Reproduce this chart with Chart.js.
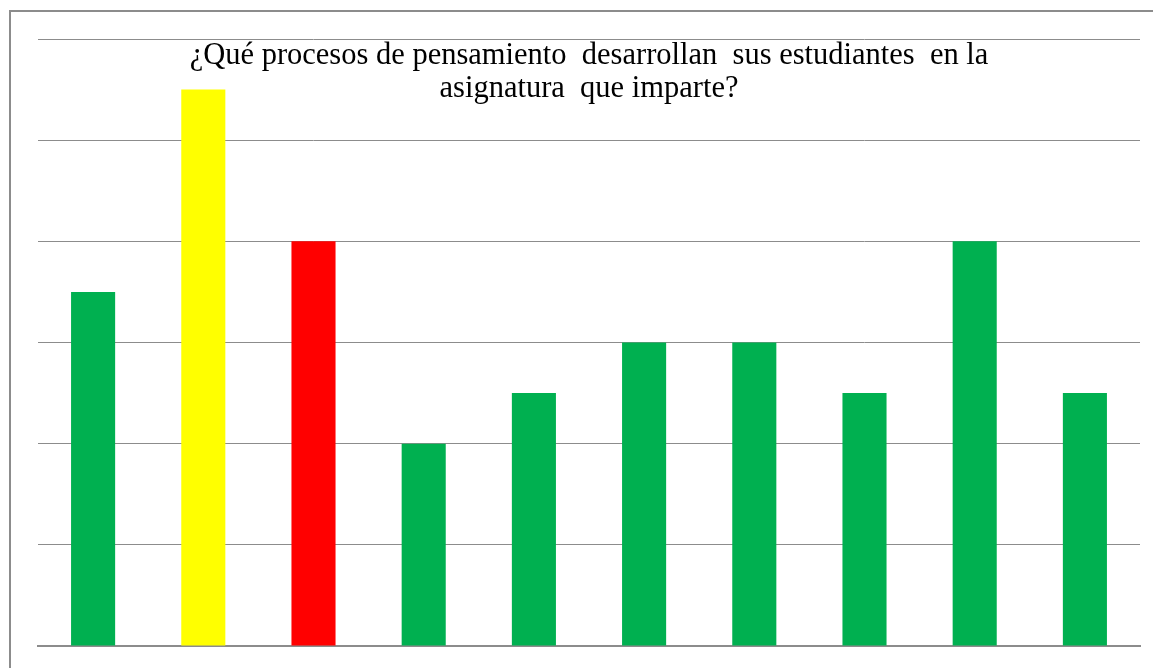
<!DOCTYPE html>
<html lang="es">
<head>
<meta charset="UTF-8" />
<title>Procesos de pensamiento</title>
<script src="https://cdn.jsdelivr.net/npm/chart.js@4.4.0/dist/chart.umd.min.js"></script>
<style>
  html, body { margin: 0; padding: 0; background: #fff; }
  #wrap { width: 1153px; height: 668px; }
</style>
</head>
<body>
<div id="wrap"><canvas id="procesosChart"></canvas></div>
<script>
// categorias (sin etiquetas visibles en el original)
const categorias = ['1', '2', '3', '4', '5', '6', '7', '8', '9', '10'];
const valores = [7, 11, 8, 4, 5, 6, 6, 5, 8, 5];
const colores = ['#00B050', '#FFFF00', '#FF0000', '#00B050', '#00B050',
                 '#00B050', '#00B050', '#00B050', '#00B050', '#00B050'];
const tituloLineas = [
  '¿Qué procesos de pensamiento  desarrollan  sus estudiantes  en la',
  'asignatura  que imparte?'
];

// marco gris + titulo dibujado encima del area del grafico
const marcoYTitulo = {
  id: 'marcoYTitulo',
  beforeDraw(chart) {
    const c = chart.ctx;
    c.save();
    c.strokeStyle = '#8c8c8c';
    c.lineWidth = 2;
    c.strokeRect(10, 11, 1300, 800);
    c.restore();
  },
  afterDraw(chart) {
    const c = chart.ctx;
    const a = chart.chartArea;
    const cx = (a.left + a.right) / 2;
    c.save();
    c.fillStyle = '#000';
    c.font = '30.5px "Liberation Serif", "Times New Roman", serif';
    c.textAlign = 'center';
    c.textBaseline = 'alphabetic';
    c.fillText(tituloLineas[0], cx, 64);
    c.fillText(tituloLineas[1], cx, 97);
    c.restore();
  }
};

const ctx = document.getElementById('procesosChart').getContext('2d');
new Chart(ctx, {
  type: 'bar',
  data: {
    labels: categorias,
    datasets: [{
      data: valores,
      backgroundColor: colores,
      borderWidth: 0,
      categoryPercentage: 1,
      barPercentage: 0.4
    }]
  },
  options: {
    responsive: true,
    maintainAspectRatio: false,
    animation: false,
    layout: { padding: { left: 38, top: 39, right: 13, bottom: 14 } },
    plugins: {
      legend: { display: false },
      title: { display: false },
      tooltip: { enabled: false }
    },
    scales: {
      x: {
        grid: { display: false },
        border: { display: true, color: '#8c8c8c', width: 2 },
        ticks: { display: false }
      },
      y: {
        min: 0,
        max: 12,
        ticks: { display: false, stepSize: 2 },
        grid: { color: '#8c8c8c', lineWidth: 1, drawTicks: false },
        border: { display: false }
      }
    }
  },
  plugins: [marcoYTitulo]
});
</script>
</body>
</html>
